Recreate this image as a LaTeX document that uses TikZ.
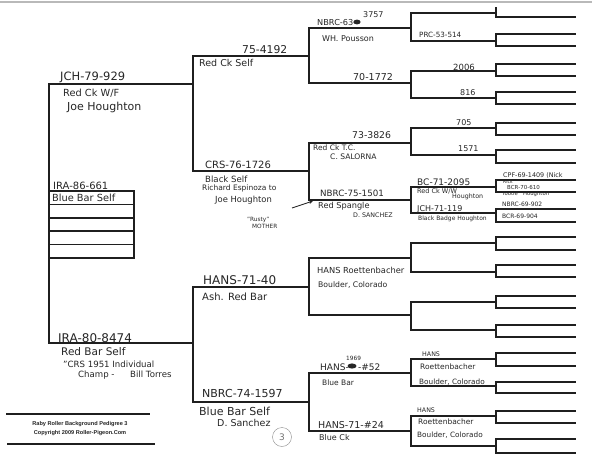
\documentclass[tikz,border=0pt]{standalone}
\usepackage{fontspec}
\setmainfont{DejaVu Sans}
\newfontfamily\footfont{Liberation Sans}
\usetikzlibrary{arrows.meta}
\newcommand\hwsize[1]{\fontsize{#1}{#1}\selectfont}
\begin{document}
\begin{tikzpicture}[x=1pt,y=-1pt,
  ln/.style={line width=1.5pt, draw=black!88, line cap=rect},
  hw/.style={anchor=west, inner sep=0pt, text=black!85},
  foot/.style={inner sep=0pt, font=\footfont\bfseries\hwsize{5.6}, text=black!85}]
\useasboundingbox (0,0) rectangle (600,471);
\fill[white] (0,0) rectangle (600,471);
% faint top edge of the scanned sheet
\coordinate (edgeL) at (0,2); \coordinate (edgeR) at (592,2);
\draw[gray!55, line width=1.2pt] (edgeL) -- (edgeR);

% ---------- level 1 (parents of subject) ----------
\foreach \y [count=\i] in {84,343} {
  \coordinate (Aa\i) at (49,\y); \coordinate (Ab\i) at (193,\y);
  \draw[ln] (Aa\i) -- (Ab\i);
}
\draw[ln] (Aa1) -- (Aa2);
% ---------- level 2 ----------
\foreach \y [count=\i] in {56,171,287,402} {
  \coordinate (Ba\i) at (193,\y); \coordinate (Bb\i) at (309,\y);
  \draw[ln] (Ba\i) -- (Bb\i);
}
\foreach \i in {1,3} { \pgfmathtruncatemacro\j{\i+1} \draw[ln] (Ba\i) -- (Ba\j); }
% ---------- level 3 ----------
\foreach \y [count=\i] in {28,83,143,200,258,315,373,431} {
  \coordinate (Ca\i) at (309,\y); \coordinate (Cb\i) at (411,\y);
  \draw[ln] (Ca\i) -- (Cb\i);
}
\foreach \i in {1,3,5,7} { \pgfmathtruncatemacro\j{\i+1} \draw[ln] (Ca\i) -- (Ca\j); }
% ---------- level 4 ----------
\foreach \y [count=\i] in {13,41,71,98,128,155,187,213,243,272,302,330,359,386,416,446} {
  \coordinate (Da\i) at (411,\y); \coordinate (Db\i) at (496,\y);
  \draw[ln] (Da\i) -- (Db\i);
}
\foreach \i in {1,3,...,15} { \pgfmathtruncatemacro\j{\i+1} \draw[ln] (Da\i) -- (Da\j); }
% ---------- level 5 ----------
\foreach \y [count=\i] in {8,17,34,46,64,76,92,104,123,135,150,163,180,192,209,222,237,250,265,277,296,308,325,337,353,366,382,393,411,423,439,453} {
  \coordinate (Ea\i) at (496,\y); \coordinate (Eb\i) at (575,\y);
  \ifnum\i>1 \draw[ln] (Ea\i) -- (Eb\i); \fi
}
\foreach \i in {1,3,...,31} { \pgfmathtruncatemacro\j{\i+1} \draw[ln] (Ea\i) -- (Ea\j); }

% ---------- subject box ----------
\coordinate (bxA) at (49,191); \coordinate (bxB) at (134,258);
\draw[ln] (bxA) rectangle (bxB);
\foreach \y [count=\i] in {204.4,217.8,231.2,244.6} {
  \coordinate (rL\i) at (49,\y); \coordinate (rR\i) at (134,\y);
  \draw[ln] (rL\i) -- (rR\i);
}

% ---------- texts: level 0/1 ----------
\node[hw, font=\hwsize{11.5}] (t1) at (60,77) {JCH-79-929};
\node[hw, font=\hwsize{9.8}] (t2) at (63,93) {Red Ck W/F};
\node[hw, font=\hwsize{11}] (t3) at (67,107) {Joe Houghton};
\node[hw, font=\hwsize{10}] (t4) at (53,186) {IRA-86-661};
\node[hw, font=\hwsize{9.8}] (t5) at (52,198) {Blue Bar Self};
\node[hw, font=\hwsize{12}] (t6) at (58,338) {IRA-80-8474};
\node[hw, font=\hwsize{10.5}] (t7) at (61,352) {Red Bar Self};
\node[hw, font=\hwsize{8.6}] (t8) at (63,364) {"CRS 1951 Individual};
\node[hw, font=\hwsize{8.6}] (t9) at (78,375) {Champ -};
\node[hw, font=\hwsize{8.6}] (t10) at (130,374) {Bill Torres};

% ---------- texts: level 2 ----------
\node[hw, font=\hwsize{10.8}] (t11) at (242,50) {75-4192};
\node[hw, font=\hwsize{9.5}] (t12) at (199,63) {Red Ck Self};
\node[hw, font=\hwsize{10}] (t13) at (205,165) {CRS-76-1726};
\node[hw, font=\hwsize{8.6}] (t14) at (205,179) {Black Self};
\node[hw, font=\hwsize{7.5}] (t15) at (202,188) {Richard Espinoza to};
\node[hw, font=\hwsize{8.4}] (t16) at (215,200) {Joe Houghton};
\node[hw, font=\hwsize{12}] (t17) at (203,280) {HANS-71-40};
\node[hw, font=\hwsize{10}] (t18) at (202,297) {Ash. Red Bar};
\node[hw, font=\hwsize{11}] (t19) at (202,393) {NBRC-74-1597};
\node[hw, font=\hwsize{11}] (t20) at (199,411) {Blue Bar Self};
\node[hw, font=\hwsize{9.5}] (t21) at (217,423) {D. Sanchez};
\node[draw=black!45, circle, minimum size=19pt, inner sep=0pt, text=black!55, font=\hwsize{9}] (circ) at (282,437) {3};

% ---------- texts: level 3 ----------
\node[hw, font=\hwsize{8.2}] (t22) at (317,23) {NBRC-63-};
\fill[black!85] (357,22) ellipse [x radius=3.6, y radius=2.4];
\node[hw, font=\hwsize{8}] (t23) at (363,15) {3757};
\node[hw, font=\hwsize{8}] (t24) at (322,39) {WH. Pousson};
\node[hw, font=\hwsize{9.5}] (t25) at (353,77) {70-1772};
\node[hw, font=\hwsize{9.3}] (t26) at (352,135) {73-3826};
\node[hw, font=\hwsize{7.5}] (t27) at (313,148) {Red Ck T.C.};
\node[hw, font=\hwsize{7.6}] (t28) at (330,157) {C. SALORNA};
\node[hw, font=\hwsize{8.7}] (t29) at (320,193) {NBRC-75-1501};
\node[hw, font=\hwsize{8.2}] (t30) at (318,206) {Red Spangle};
\node[hw, font=\hwsize{6.3}] (t31) at (353,215) {D. SANCHEZ};
\node[hw, font=\hwsize{5.8}] (t32) at (247,219.5) {"Rusty"};
\node[hw, font=\hwsize{5.8}] (t33) at (252,226.5) {MOTHER};
\coordinate (arA) at (292,208); \coordinate (arB) at (313,201);
\draw[line width=0.8pt, black!85, -{Stealth[length=4pt,width=3.5pt]}] (arA) -- (arB);
\node[hw, font=\hwsize{8.3}] (t34) at (317,270) {HANS Roettenbacher};
\node[hw, font=\hwsize{7.7}] (t35) at (318,285) {Boulder, Colorado};
\node[hw, font=\hwsize{9}] (t36) at (320,367) {HANS-};
\fill[black!85] (352,366) ellipse [x radius=4.5, y radius=2.6];
\node[hw, font=\hwsize{9}] (t37) at (358,367) {-\#52};
\node[hw, font=\hwsize{5.8}] (t38) at (346,358) {1969};
\node[hw, font=\hwsize{7.5}] (t39) at (322,383) {Blue Bar};
\node[hw, font=\hwsize{9.5}] (t40) at (318,425) {HANS-71-\#24};
\node[hw, font=\hwsize{8}] (t41) at (319,438) {Blue Ck};

% ---------- texts: level 4 ----------
\node[hw, font=\hwsize{7.2}] (t42) at (419,35) {PRC-53-514};
\node[hw, font=\hwsize{8.5}] (t43) at (453,67) {2006};
\node[hw, font=\hwsize{8}] (t44) at (460,93) {816};
\node[hw, font=\hwsize{8}] (t45) at (456,123) {705};
\node[hw, font=\hwsize{8}] (t46) at (458,149) {1571};
\node[hw, font=\hwsize{9}] (t47) at (417,182) {BC-71-2095};
\node[hw, font=\hwsize{6.5}] (t48) at (417,191) {Red Ck W/W};
\node[hw, font=\hwsize{6.3}] (t49) at (452,197) {Houghton};
\node[hw, font=\hwsize{8}] (t50) at (417,209) {JCH-71-119};
\node[hw, font=\hwsize{6}] (t51) at (418,219) {Black Badge Houghton};
\node[hw, font=\hwsize{6.3}] (t52) at (422,354) {HANS};
\node[hw, font=\hwsize{7.5}] (t53) at (420,367) {Roettenbacher};
\node[hw, font=\hwsize{7.3}] (t54) at (419,382) {Boulder, Colorado};
\node[hw, font=\hwsize{6.3}] (t55) at (417,410) {HANS};
\node[hw, font=\hwsize{7.5}] (t56) at (418,422) {Roettenbacher};
\node[hw, font=\hwsize{7.3}] (t57) at (417,435) {Boulder, Colorado};

% ---------- texts: level 5 ----------
\node[hw, font=\hwsize{6.4}] (t58) at (503,175) {CPF-69-1409 (Nick};
\node[hw, font=\hwsize{4.5}] (t59) at (503,182) {Rick};
\node[hw, font=\hwsize{5.5}] (t60) at (507,187.5) {BCR-70-610};
\node[hw, font=\hwsize{5.3}] (t61) at (502,194.5) {Tootie\quad Houghton};
\node[hw, font=\hwsize{6}] (t62) at (502,204) {NBRC-69-902};
\node[hw, font=\hwsize{6}] (t63) at (502,216.5) {BCR-69-904};

% ---------- footer ----------
\coordinate (f1a) at (6,414); \coordinate (f1b) at (150,414);
\coordinate (f2a) at (7,444); \coordinate (f2b) at (155,444);
\draw[ln, line cap=butt] (f1a) -- (f1b);
\draw[ln, line cap=butt] (f2a) -- (f2b);
\node[foot] (ft1) at (80,424) {Raby Roller Background Pedigree 3};
\node[foot] (ft2) at (80,433) {Copyright 2009 Roller-Pigeon.Com};
\end{tikzpicture}
\end{document}
